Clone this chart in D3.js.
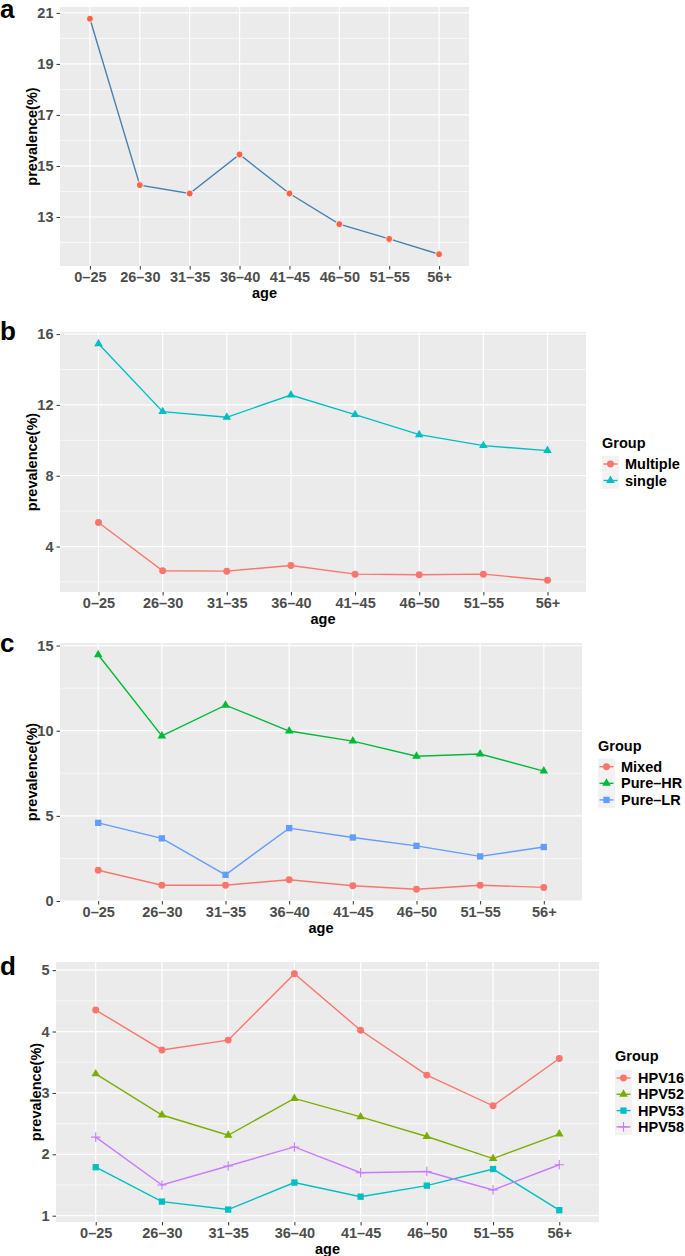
<!DOCTYPE html>
<html>
<head>
<meta charset="utf-8">
<script src="https://cdn.jsdelivr.net/npm/d3@7"></script>
<style>
  html, body { margin: 0; padding: 0; background: #fff; }
  svg { display: block; }
  text { font-family: "Liberation Sans", Arial, Helvetica, sans-serif; font-weight: bold; }
</style>
</head>
<body>
<svg id="chart" width="685" height="1256"></svg>
<script>
// ---------- data ----------
const ages = ["0–25", "26–30", "31–35", "36–40", "41–45", "46–50", "51–55", "56+"];

const aPrevalence = [20.77, 14.25, 13.92, 15.45, 13.92, 12.72, 12.14, 11.54];
const aTicks = [13, 15, 17, 19, 21];

const bGroups = ["Multiple", "single"];
const bMultiple = [5.36, 2.63, 2.61, 2.93, 2.44, 2.41, 2.44, 2.10];
const bSingle = [15.45, 11.62, 11.30, 12.56, 11.45, 10.32, 9.70, 9.42];
const bTicks = [4, 8, 12, 16];

const cGroups = ["Mixed", "Pure–HR", "Pure–LR"];
const cMixed = [1.81, 0.93, 0.93, 1.25, 0.90, 0.69, 0.93, 0.80];
const cPureHR = [14.46, 9.69, 11.50, 9.98, 9.39, 8.50, 8.63, 7.63];
const cPureLR = [4.59, 3.68, 1.54, 4.28, 3.73, 3.24, 2.62, 3.17];
const cTicks = [0, 5, 10, 15];

const dGroups = ["HPV16", "HPV52", "HPV53", "HPV58"];
const dHPV16 = [4.35, 3.70, 3.86, 4.94, 4.02, 3.29, 2.79, 3.56];
const dHPV52 = [3.31, 2.64, 2.31, 2.91, 2.61, 2.29, 1.93, 2.33];
const dHPV53 = [1.79, 1.23, 1.10, 1.54, 1.31, 1.49, 1.76, 1.09];
const dHPV58 = [2.28, 1.50, 1.81, 2.12, 1.70, 1.72, 1.42, 1.83];
const dTicks = [1, 2, 3, 4, 5];

// ---------- drawing ----------
const svg = d3.select("#chart");
const FONT = 14.5;

function markerPath(shape) {
  if (shape === "circle") return d3.symbol(d3.symbolCircle, 38)();
  if (shape === "triangle") return d3.symbol(d3.symbolTriangle, 32)();
  if (shape === "square") return d3.symbol(d3.symbolSquare, 40)();
  if (shape === "plus") return "M-4.8,0H4.8M0,-4.8V4.8";
  return d3.symbol(d3.symbolCircle, 38)();
}

function drawMarker(g, shape, color, x, y, extra) {
  const p = g.append("path")
    .attr("d", markerPath(shape))
    .attr("transform", `translate(${x},${y})`);
  if (shape === "plus") {
    p.attr("fill", "none").attr("stroke", color).attr("stroke-width", 1.1);
  } else {
    p.attr("fill", color);
    if (extra && extra.stroke) p.attr("stroke", extra.stroke).attr("stroke-width", extra.strokeWidth);
  }
}

function drawPanel(cfg) {
  const { left, right, top, bottom } = cfg;
  const all = cfg.series.flatMap(s => s.values);
  const lo = d3.min(all), hi = d3.max(all), r = hi - lo;
  const y = d3.scaleLinear().domain([lo - 0.05 * r, hi + 0.05 * r]).range([bottom, top]);
  const x = d3.scalePoint().domain(ages).range([left, right]).padding(0.6);

  const g = svg.append("g");
  g.append("rect").attr("x", left).attr("y", top).attr("width", right - left).attr("height", bottom - top)
    .attr("fill", "#EBEBEB");

  // minor grid
  const minor = [];
  const step = cfg.ticks[1] - cfg.ticks[0];
  const first = cfg.ticks[0] - step / 2;
  for (let v = first; v <= y.domain()[1]; v += step) {
    if (v >= y.domain()[0]) minor.push(v);
  }
  g.selectAll(".minor").data(minor).enter().append("line")
    .attr("x1", left).attr("x2", right).attr("y1", d => y(d)).attr("y2", d => y(d))
    .attr("stroke", "#fff").attr("stroke-width", 0.6);
  // major grid
  g.selectAll(".majorY").data(cfg.ticks).enter().append("line")
    .attr("x1", left).attr("x2", right).attr("y1", d => y(d)).attr("y2", d => y(d))
    .attr("stroke", "#fff").attr("stroke-width", 1.2);
  g.selectAll(".majorX").data(ages).enter().append("line")
    .attr("x1", d => x(d)).attr("x2", d => x(d)).attr("y1", top).attr("y2", bottom)
    .attr("stroke", "#fff").attr("stroke-width", 1.2);

  // axes
  const yAxis = d3.axisLeft(y).tickValues(cfg.ticks).tickSize(3.5).tickPadding(3).tickFormat(d3.format("d"));
  const ya = g.append("g").attr("transform", `translate(${left},0)`).call(yAxis);
  const xAxis = d3.axisBottom(x).tickSize(3.5).tickPadding(2);
  const xa = g.append("g").attr("transform", `translate(0,${bottom})`).call(xAxis);
  [ya, xa].forEach(a => {
    a.select(".domain").remove();
    a.selectAll(".tick line").attr("stroke", "#333").attr("stroke-width", 1);
    a.selectAll(".tick text").attr("fill", "#4D4D4D").style("font-size", FONT + "px")
      .style("font-family", '"Liberation Sans", Arial, sans-serif').style("font-weight", "bold");
  });

  // axis titles
  g.append("text").attr("x", (left + right) / 2).attr("y", bottom + 32).attr("text-anchor", "middle")
    .style("font-size", FONT + "px").attr("fill", "#000").text("age");
  g.append("text").attr("transform", `translate(${cfg.yTitleX},${(top + bottom) / 2}) rotate(-90)`)
    .attr("text-anchor", "middle").attr("dy", "0.35em")
    .style("font-size", FONT + "px").attr("fill", "#000").text("prevalence(%)");

  // panel letter
  g.append("text").attr("x", 0).attr("y", cfg.letterY).style("font-size", "26px").attr("fill", "#000")
    .text(cfg.letter);

  // series
  cfg.series.forEach(s => {
    const line = d3.line().x((d, i) => x(ages[i])).y(d => y(d));
    g.append("path").datum(s.values).attr("d", line).attr("fill", "none")
      .attr("stroke", s.lineColor || s.color).attr("stroke-width", 1.4);
    s.values.forEach((v, i) => drawMarker(g, s.shape, s.color, x(ages[i]), y(v), s.markerExtra));
  });

  // legend
  if (cfg.legend) {
    const L = cfg.legend;
    g.append("text").attr("x", L.x).attr("y", L.titleY).attr("dy", "0.35em")
      .style("font-size", FONT + "px").attr("fill", "#000").text("Group");
    cfg.series.forEach((s, i) => {
      const cy = L.keyY + i * L.keyStep;
      g.append("rect").attr("x", L.x).attr("y", cy - L.keyStep / 2).attr("width", 17).attr("height", L.keyStep)
        .attr("fill", "#F2F2F2");
      g.append("line").attr("x1", L.x + 1.5).attr("x2", L.x + 15.5).attr("y1", cy).attr("y2", cy)
        .attr("stroke", s.color).attr("stroke-width", 1.4);
      drawMarker(g, s.shape, s.color, L.x + 8.5, cy);
      g.append("text").attr("x", L.x + 23).attr("y", cy).attr("dy", "0.35em")
        .style("font-size", FONT + "px").attr("fill", "#000").text(s.name);
    });
  }
}

drawPanel({
  letter: "a", letterY: 18, left: 60, right: 469, top: 7, bottom: 266, yTitleX: 32,
  ticks: aTicks,
  series: [{ name: "prevalence", values: aPrevalence, color: "#FF6347", lineColor: "#4682B4", shape: "circle",
             markerExtra: { stroke: "#fff", strokeWidth: 0.8 } }]
});

drawPanel({
  letter: "b", letterY: 340, left: 60, right: 586, top: 332, bottom: 592, yTitleX: 32,
  ticks: bTicks,
  series: [
    { name: bGroups[0], values: bMultiple, color: "#F8766D", shape: "circle" },
    { name: bGroups[1], values: bSingle, color: "#00BFC4", shape: "triangle" }
  ],
  legend: { x: 602, titleY: 443, keyY: 464, keyStep: 16.5 }
});

drawPanel({
  letter: "c", letterY: 652, left: 60, right: 582, top: 643, bottom: 901, yTitleX: 32,
  ticks: cTicks,
  series: [
    { name: cGroups[0], values: cMixed, color: "#F8766D", shape: "circle" },
    { name: cGroups[1], values: cPureHR, color: "#00BA38", shape: "triangle" },
    { name: cGroups[2], values: cPureLR, color: "#619CFF", shape: "square" }
  ],
  legend: { x: 598, titleY: 746, keyY: 766.7, keyStep: 16.6 }
});

drawPanel({
  letter: "d", letterY: 975, left: 56, right: 599, top: 962, bottom: 1222, yTitleX: 36,
  ticks: dTicks,
  series: [
    { name: dGroups[0], values: dHPV16, color: "#F8766D", shape: "circle" },
    { name: dGroups[1], values: dHPV52, color: "#7CAE00", shape: "triangle" },
    { name: dGroups[2], values: dHPV53, color: "#00BFC4", shape: "square" },
    { name: dGroups[3], values: dHPV58, color: "#C77CFF", shape: "plus" }
  ],
  legend: { x: 615, titleY: 1056, keyY: 1078, keyStep: 16.3 }
});
</script>
</body>
</html>
